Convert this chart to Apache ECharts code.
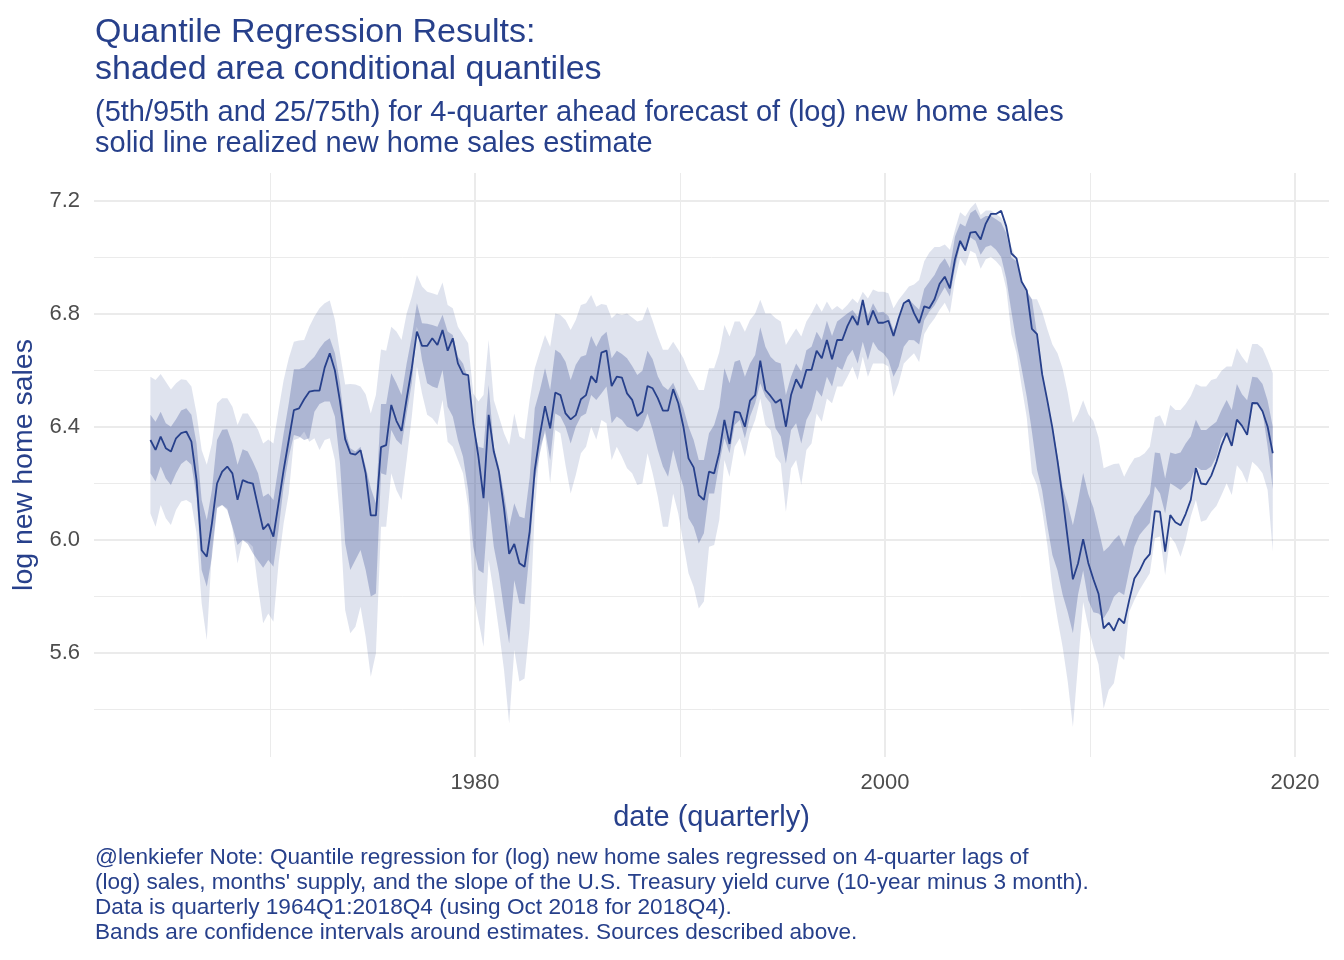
<!DOCTYPE html>
<html>
<head>
<meta charset="utf-8">
<title>Quantile Regression Results</title>
<script src="https://cdn.jsdelivr.net/npm/echarts@6/dist/echarts.min.js"></script>
<style>
  html, body { margin: 0; padding: 0; background: #fff; }
  #main { width: 1344px; height: 960px; }
</style>
</head>
<body>
<div id="main"></div>
<script>
//----------- Data (log new home sales, quarterly 1964Q1:2018Q4)
const quarters = [];
for (let y = 1964; y <= 2018; y++) {
    for (let q = 1; q <= 4; q++) quarters.push(y + "Q" + q);
}

// realized new home sales estimate (solid line)
const realized = [
    6.354, 6.319, 6.366, 6.325, 6.313, 6.360, 6.378, 6.384, 6.348, 6.212,
    5.964, 5.941, 6.059, 6.200, 6.242, 6.260, 6.236, 6.142, 6.212, 6.204,
    6.200, 6.118, 6.038, 6.057, 6.012, 6.130, 6.248, 6.354, 6.460, 6.466,
    6.498, 6.525, 6.529, 6.529, 6.610, 6.661, 6.600, 6.490, 6.357, 6.307,
    6.302, 6.318, 6.236, 6.087, 6.087, 6.329, 6.336, 6.478, 6.422, 6.386,
    6.500, 6.608, 6.738, 6.687, 6.687, 6.714, 6.690, 6.743, 6.670, 6.714,
    6.625, 6.588, 6.584, 6.413, 6.295, 6.148, 6.443, 6.313, 6.242, 6.112,
    5.951, 5.986, 5.918, 5.905, 6.030, 6.248, 6.372, 6.474, 6.395, 6.522,
    6.513, 6.448, 6.427, 6.442, 6.498, 6.513, 6.580, 6.557, 6.663, 6.670,
    6.545, 6.578, 6.575, 6.519, 6.496, 6.439, 6.454, 6.545, 6.537, 6.502,
    6.458, 6.458, 6.534, 6.484, 6.401, 6.289, 6.257, 6.159, 6.142, 6.242,
    6.236, 6.310, 6.425, 6.340, 6.454, 6.451, 6.401, 6.493, 6.513, 6.635,
    6.531, 6.510, 6.486, 6.498, 6.401, 6.513, 6.569, 6.537, 6.602, 6.602,
    6.670, 6.643, 6.708, 6.640, 6.708, 6.708, 6.757, 6.793, 6.761, 6.850,
    6.761, 6.812, 6.769, 6.769, 6.776, 6.722, 6.785, 6.838, 6.850, 6.803,
    6.768, 6.827, 6.821, 6.852, 6.907, 6.932, 6.891, 6.994, 7.059, 7.024,
    7.088, 7.091, 7.064, 7.120, 7.154, 7.154, 7.165, 7.110, 7.014, 6.997,
    6.914, 6.883, 6.747, 6.729, 6.587, 6.495, 6.397, 6.280, 6.150, 6.003,
    5.861, 5.917, 6.003, 5.919, 5.861, 5.810, 5.687, 5.707, 5.679, 5.723,
    5.705, 5.788, 5.864, 5.891, 5.929, 5.950, 6.102, 6.100, 5.959, 6.088,
    6.063, 6.052, 6.092, 6.142, 6.255, 6.200, 6.197, 6.228, 6.276, 6.335,
    6.379, 6.333, 6.426, 6.404, 6.372, 6.485, 6.484, 6.456, 6.401, 6.307
];

// 95th conditional quantile
const q95 = [
    6.578, 6.566, 6.588, 6.560, 6.533, 6.555, 6.569, 6.566, 6.543, 6.448,
    6.319, 6.266, 6.342, 6.484, 6.502, 6.502, 6.472, 6.407, 6.448, 6.448,
    6.419, 6.390, 6.342, 6.356, 6.342, 6.460, 6.566, 6.643, 6.702, 6.706,
    6.708, 6.755, 6.791, 6.820, 6.838, 6.848, 6.780, 6.660, 6.550, 6.552,
    6.550, 6.543, 6.516, 6.448, 6.513, 6.674, 6.670, 6.755, 6.738, 6.708,
    6.802, 6.861, 6.938, 6.897, 6.879, 6.873, 6.867, 6.911, 6.832, 6.820,
    6.755, 6.726, 6.696, 6.519, 6.490, 6.513, 6.708, 6.496, 6.437, 6.378,
    6.336, 6.448, 6.366, 6.357, 6.496, 6.608, 6.667, 6.726, 6.684, 6.802,
    6.796, 6.779, 6.743, 6.779, 6.832, 6.838, 6.867, 6.826, 6.835, 6.832,
    6.785, 6.802, 6.796, 6.802, 6.788, 6.773, 6.779, 6.826, 6.776, 6.720,
    6.673, 6.673, 6.702, 6.673, 6.643, 6.596, 6.566, 6.531, 6.531, 6.608,
    6.608, 6.665, 6.761, 6.720, 6.773, 6.773, 6.737, 6.779, 6.802, 6.850,
    6.802, 6.802, 6.785, 6.773, 6.690, 6.720, 6.749, 6.720, 6.773, 6.802,
    6.838, 6.808, 6.844, 6.814, 6.828, 6.814, 6.832, 6.855, 6.838, 6.879,
    6.855, 6.887, 6.879, 6.879, 6.873, 6.820, 6.850, 6.873, 6.897, 6.904,
    6.920, 6.987, 7.018, 7.037, 7.037, 7.046, 7.027, 7.098, 7.160, 7.145,
    7.174, 7.194, 7.150, 7.166, 7.166, 7.154, 7.141, 7.110, 7.037, 6.994,
    6.907, 6.877, 6.852, 6.852, 6.809, 6.747, 6.692, 6.661, 6.606, 6.520,
    6.415, 6.446, 6.495, 6.446, 6.421, 6.363, 6.254, 6.262, 6.269, 6.271,
    6.224, 6.260, 6.289, 6.295, 6.307, 6.330, 6.434, 6.442, 6.401, 6.478,
    6.460, 6.460, 6.481, 6.510, 6.552, 6.543, 6.543, 6.566, 6.572, 6.599,
    6.614, 6.614, 6.679, 6.649, 6.625, 6.694, 6.694, 6.679, 6.637, 6.590
];

// 5th conditional quantile
const q05 = [
    6.094, 6.047, 6.124, 6.077, 6.053, 6.106, 6.136, 6.142, 6.130, 6.024,
    5.776, 5.646, 5.965, 6.118, 6.124, 6.112, 6.041, 5.917, 6.000, 5.994,
    5.976, 5.835, 5.705, 5.740, 5.711, 5.917, 6.059, 6.165, 6.354, 6.360,
    6.384, 6.348, 6.360, 6.319, 6.354, 6.360, 6.283, 6.077, 5.752, 5.670,
    5.693, 5.764, 5.658, 5.516, 5.599, 6.047, 6.047, 6.236, 6.177, 6.142,
    6.283, 6.437, 6.614, 6.519, 6.443, 6.431, 6.407, 6.496, 6.348, 6.330,
    6.283, 6.236, 6.118, 5.811, 5.717, 5.622, 5.929, 5.811, 5.681, 5.540,
    5.351, 5.611, 5.499, 5.510, 5.693, 6.100, 6.330, 6.378, 6.201, 6.389,
    6.378, 6.265, 6.165, 6.230, 6.307, 6.330, 6.401, 6.356, 6.425, 6.413,
    6.283, 6.330, 6.295, 6.254, 6.236, 6.195, 6.201, 6.307, 6.236, 6.153,
    6.047, 6.047, 6.165, 6.094, 5.988, 5.882, 5.835, 5.758, 5.782, 5.976,
    5.982, 6.071, 6.283, 6.224, 6.330, 6.360, 6.295, 6.378, 6.425, 6.501,
    6.407, 6.389, 6.295, 6.271, 6.100, 6.254, 6.283, 6.195, 6.319, 6.342,
    6.448, 6.419, 6.501, 6.484, 6.543, 6.543, 6.578, 6.614, 6.566, 6.649,
    6.578, 6.625, 6.625, 6.625, 6.614, 6.507, 6.555, 6.625, 6.643, 6.661,
    6.630, 6.729, 6.760, 6.784, 6.815, 6.840, 6.803, 6.920, 6.997, 6.969,
    7.024, 7.014, 6.960, 6.994, 7.002, 6.987, 6.965, 6.889, 6.729, 6.661,
    6.544, 6.434, 6.237, 6.194, 6.107, 5.984, 5.830, 5.720, 5.621, 5.498,
    5.338, 5.560, 5.781, 5.695, 5.621, 5.560, 5.404, 5.469, 5.493, 5.593,
    5.575, 5.746, 5.788, 5.823, 5.853, 5.882, 6.006, 6.012, 5.876, 6.012,
    5.988, 5.941, 6.000, 6.083, 6.142, 6.065, 6.071, 6.100, 6.120, 6.159,
    6.201, 6.159, 6.265, 6.242, 6.201, 6.277, 6.260, 6.236, 6.177, 5.959
];

// 75th conditional quantile
const q75 = [
    6.443, 6.419, 6.454, 6.413, 6.401, 6.427, 6.458, 6.466, 6.443, 6.342,
    6.142, 6.071, 6.177, 6.354, 6.390, 6.392, 6.342, 6.266, 6.321, 6.313,
    6.277, 6.236, 6.153, 6.165, 6.142, 6.260, 6.378, 6.484, 6.604, 6.604,
    6.611, 6.631, 6.649, 6.678, 6.702, 6.714, 6.661, 6.555, 6.389, 6.325,
    6.313, 6.330, 6.260, 6.183, 6.130, 6.481, 6.481, 6.590, 6.555, 6.513,
    6.625, 6.720, 6.838, 6.767, 6.765, 6.761, 6.755, 6.797, 6.738, 6.726,
    6.649, 6.625, 6.566, 6.401, 6.330, 6.325, 6.549, 6.330, 6.260, 6.165,
    6.047, 6.130, 6.083, 6.077, 6.220, 6.466, 6.531, 6.608, 6.531, 6.673,
    6.661, 6.631, 6.566, 6.620, 6.649, 6.655, 6.722, 6.684, 6.720, 6.737,
    6.643, 6.670, 6.658, 6.643, 6.616, 6.584, 6.599, 6.670, 6.640, 6.580,
    6.545, 6.531, 6.557, 6.513, 6.466, 6.401, 6.354, 6.283, 6.283, 6.378,
    6.407, 6.470, 6.608, 6.555, 6.631, 6.637, 6.578, 6.625, 6.655, 6.753,
    6.684, 6.649, 6.631, 6.625, 6.513, 6.578, 6.625, 6.596, 6.672, 6.684,
    6.737, 6.708, 6.776, 6.722, 6.773, 6.788, 6.802, 6.814, 6.790, 6.852,
    6.793, 6.838, 6.805, 6.808, 6.793, 6.743, 6.779, 6.832, 6.852, 6.833,
    6.815, 6.889, 6.914, 6.938, 6.975, 6.997, 6.963, 7.074, 7.120, 7.110,
    7.157, 7.170, 7.135, 7.147, 7.147, 7.135, 7.123, 7.086, 7.000, 6.987,
    6.920, 6.883, 6.852, 6.729, 6.600, 6.489, 6.403, 6.298, 6.187, 6.126,
    6.052, 6.138, 6.237, 6.163, 6.114, 6.038, 5.959, 5.976, 6.000, 6.018,
    5.976, 6.035, 6.083, 6.106, 6.136, 6.165, 6.310, 6.307, 6.218, 6.310,
    6.304, 6.310, 6.342, 6.366, 6.426, 6.389, 6.389, 6.404, 6.419, 6.460,
    6.496, 6.460, 6.552, 6.516, 6.495, 6.578, 6.575, 6.552, 6.493, 6.401
];

// 25th conditional quantile
const q25 = [
    6.236, 6.207, 6.260, 6.218, 6.195, 6.236, 6.269, 6.283, 6.266, 6.153,
    5.894, 5.835, 5.941, 6.112, 6.124, 6.106, 6.047, 5.982, 6.000, 5.986,
    5.953, 5.927, 5.902, 5.929, 5.905, 6.035, 6.189, 6.295, 6.372, 6.366,
    6.354, 6.360, 6.454, 6.481, 6.490, 6.490, 6.437, 6.271, 5.988, 5.894,
    5.929, 5.965, 5.894, 5.800, 5.811, 6.236, 6.230, 6.389, 6.354, 6.336,
    6.448, 6.555, 6.755, 6.637, 6.555, 6.543, 6.537, 6.602, 6.472, 6.437,
    6.354, 6.295, 6.177, 5.976, 5.894, 5.882, 6.142, 5.976, 5.882, 5.752,
    5.634, 5.858, 5.776, 5.773, 5.960, 6.212, 6.307, 6.389, 6.283, 6.448,
    6.437, 6.401, 6.342, 6.401, 6.437, 6.448, 6.513, 6.496, 6.519, 6.543,
    6.413, 6.437, 6.425, 6.401, 6.395, 6.383, 6.401, 6.448, 6.389, 6.319,
    6.260, 6.224, 6.319, 6.248, 6.189, 6.077, 6.047, 5.988, 6.024, 6.165,
    6.165, 6.270, 6.360, 6.307, 6.407, 6.425, 6.360, 6.437, 6.484, 6.555,
    6.507, 6.484, 6.395, 6.366, 6.271, 6.389, 6.413, 6.342, 6.425, 6.460,
    6.531, 6.507, 6.578, 6.543, 6.614, 6.602, 6.649, 6.673, 6.625, 6.702,
    6.637, 6.702, 6.673, 6.661, 6.637, 6.578, 6.614, 6.684, 6.708, 6.707,
    6.692, 6.778, 6.809, 6.830, 6.864, 6.895, 6.862, 6.963, 7.043, 7.022,
    7.071, 7.059, 7.010, 7.037, 7.043, 7.027, 7.002, 6.926, 6.809, 6.698,
    6.606, 6.507, 6.384, 6.249, 6.175, 6.052, 5.947, 5.892, 5.806, 5.744,
    5.670, 5.806, 5.892, 5.787, 5.744, 5.740, 5.723, 5.752, 5.799, 5.817,
    5.805, 5.894, 5.976, 6.018, 6.040, 6.060, 6.190, 6.165, 6.094, 6.201,
    6.189, 6.177, 6.195, 6.212, 6.260, 6.248, 6.248, 6.260, 6.295, 6.360,
    6.383, 6.342, 6.425, 6.407, 6.378, 6.490, 6.484, 6.454, 6.330, 6.180
];

// axis ticks
const xMajorTicks = [1980, 2000, 2020];
const xMinorTicks = [1970, 1990, 2010];
const yMajorTicks = [5.6, 6.0, 6.4, 6.8, 7.2];
const yMinorTicks = [5.4, 5.8, 6.2, 6.6, 7.0];
//----------- Data

// quarter label -> decimal year (dated at last month of the quarter)
const dates = quarters.map(s => {
    const year = parseInt(s.slice(0, 4));
    const q = parseInt(s.slice(5));
    return year + (3 * q - 1) / 12;
});

const blue = "#27408b";
const font = "Liberation Sans";
const xMin = 1961.415, xMax = 2021.66;
const yMin = 5.232, yMax = 7.299;

const myChart = echarts.init(document.getElementById("main"));

// ribbon between lo and hi, drawn through the axis scales
function ribbon(lo, hi, fill, z) {
    return {
        type: "custom",
        silent: true,
        clip: true,
        z: z,
        data: [[dates[0], lo[0]]],
        renderItem: (params, api) => {
            const pts = [];
            for (let i = 0; i < dates.length; i++) pts.push(api.coord([dates[i], hi[i]]));
            for (let i = dates.length - 1; i >= 0; i--) pts.push(api.coord([dates[i], lo[i]]));
            return {
                type: "polygon",
                shape: { points: pts },
                style: { fill: fill }
            };
        }
    };
}

const option = {
    animation: false,
    backgroundColor: "#ffffff",
    textStyle: { fontFamily: font },
    title: [
        {
            text: "Quantile Regression Results:\nshaded area conditional quantiles",
            subtext: "(5th/95th and 25/75th) for 4-quarter ahead forecast of (log) new home sales\nsolid line realized new home sales estimate",
            left: 95,
            top: 14,
            padding: 0,
            itemGap: 10,
            textStyle: { color: blue, fontSize: 34, lineHeight: 37, fontWeight: "normal", fontFamily: font },
            subtextStyle: { color: blue, fontSize: 29, lineHeight: 30.5, fontFamily: font }
        },
        {
            text: "@lenkiefer Note: Quantile regression for (log) new home sales regressed on 4-quarter lags of\n" +
                  "(log) sales, months' supply, and the slope of the U.S. Treasury yield curve (10-year minus 3 month).\n" +
                  "Data is quarterly 1964Q1:2018Q4 (using Oct 2018 for 2018Q4).\n" +
                  "Bands are confidence intervals around estimates. Sources described above.",
            left: 95,
            top: 845,
            padding: 0,
            textStyle: { color: blue, fontSize: 22.6, lineHeight: 25, fontWeight: "normal", fontFamily: font }
        }
    ],
    grid: { left: 94, right: 15, top: 173, bottom: 203, containLabel: false },
    xAxis: [
        {
            type: "value",
            min: xMin,
            max: xMax,
            axisLine: { show: false },
            axisTick: { show: false, customValues: xMajorTicks },
            axisLabel: {
                customValues: xMajorTicks,
                color: "#4d4d4d",
                fontSize: 22,
                margin: 15,
                fontFamily: font,
                formatter: v => String(Math.round(v))
            },
            splitLine: { show: true, lineStyle: { color: "#ebebeb", width: 2 } },
            name: "date (quarterly)",
            nameLocation: "middle",
            nameGap: 46,
            nameTextStyle: { color: blue, fontSize: 29, fontFamily: font }
        },
        {
            type: "value",
            min: xMin,
            max: xMax,
            axisLine: { show: false },
            axisTick: { show: false, customValues: xMinorTicks },
            axisLabel: { show: false, customValues: xMinorTicks },
            splitLine: { show: true, lineStyle: { color: "#ebebeb", width: 1 } }
        }
    ],
    yAxis: [
        {
            type: "value",
            min: yMin,
            max: yMax,
            axisLine: { show: false },
            axisTick: { show: false, customValues: yMajorTicks },
            axisLabel: {
                customValues: yMajorTicks,
                color: "#4d4d4d",
                fontSize: 22,
                margin: 14,
                fontFamily: font,
                formatter: v => v.toFixed(1)
            },
            splitLine: { show: true, lineStyle: { color: "#ebebeb", width: 2 } },
            name: "log new home sales",
            nameLocation: "middle",
            nameRotate: 90,
            nameGap: 43,
            nameTextStyle: { color: blue, fontSize: 28.5, fontFamily: font }
        },
        {
            type: "value",
            min: yMin,
            max: yMax,
            axisLine: { show: false },
            axisTick: { show: false, customValues: yMinorTicks },
            axisLabel: { show: false, customValues: yMinorTicks },
            splitLine: { show: true, lineStyle: { color: "#ebebeb", width: 1 } }
        }
    ],
    series: [
        ribbon(q05, q95, "rgba(39,64,139,0.15)", 1),
        ribbon(q25, q75, "rgba(39,64,139,0.27)", 2),
        {
            type: "line",
            z: 3,
            silent: true,
            symbol: "none",
            showSymbol: false,
            lineStyle: { color: blue, width: 1.8 },
            data: dates.map((d, i) => [d, realized[i]])
        }
    ]
};

myChart.setOption(option);
</script>
</body>
</html>
